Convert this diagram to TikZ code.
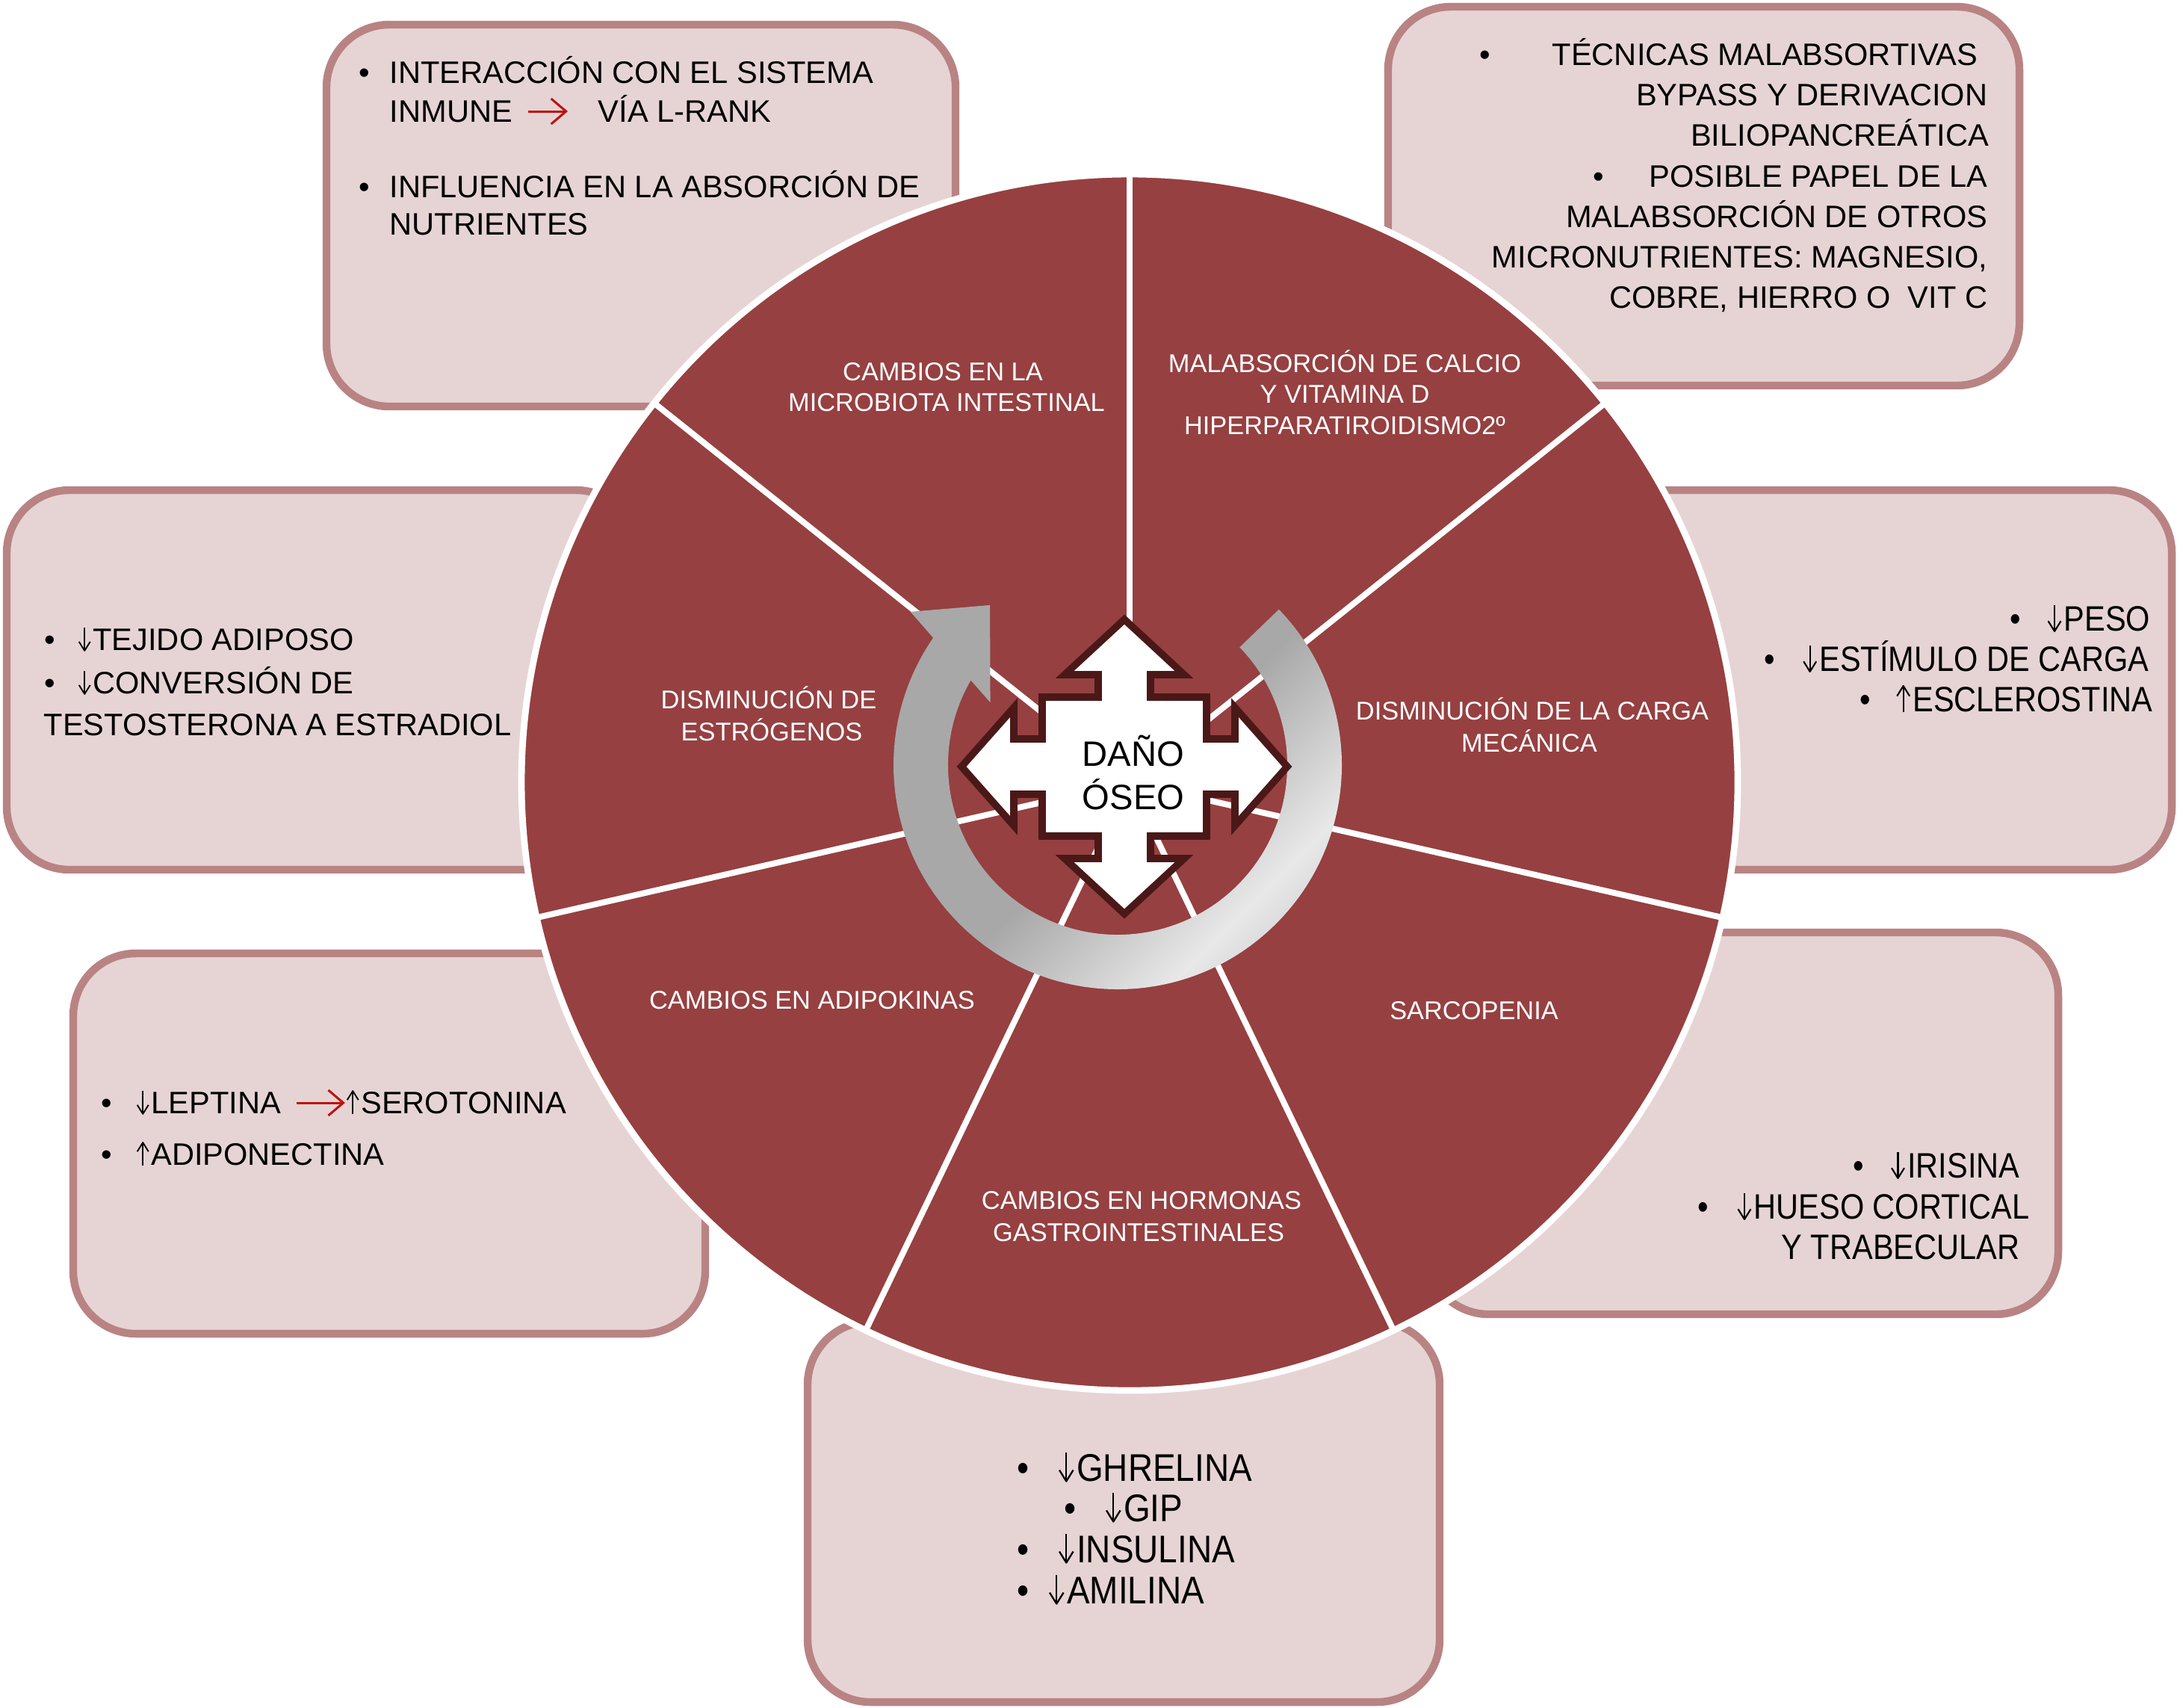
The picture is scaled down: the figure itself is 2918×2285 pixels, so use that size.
\documentclass[tikz,border=0pt]{standalone}
\usepackage{fontspec}
\setmainfont{Liberation Sans}
\newfontfamily\fontR{Liberation Sans}[FakeStretch=0.88]
\newfontfamily\fontB{Liberation Sans}[FakeStretch=0.89]
\usetikzlibrary{arrows.meta}
\definecolor{piered}{RGB}{150,64,65}
\definecolor{boxfill}{RGB}{230,212,212}
\definecolor{boxline}{RGB}{185,131,131}
\definecolor{crossline}{RGB}{75,24,24}
\definecolor{arrred}{RGB}{192,16,16}
\definecolor{ringdark}{RGB}{168,168,168}
\definecolor{ringlight}{RGB}{232,232,232}
\definecolor{ringmid}{RGB}{188,188,188}
\pgfdeclarehorizontalshading{ringsh}{100bp}{color(0bp)=(ringdark); color(50bp)=(ringdark); color(68bp)=(ringlight); color(82bp)=(ringmid); color(100bp)=(ringmid)}
\newcommand{\dar}{\tikz[baseline=0pt]{\draw[line width=0.045em] (0.2em,0.74em) -- (0.2em,0.02em); \draw[line width=0.045em, line join=round] (0.02em,0.29em) -- (0.2em,0em) -- (0.38em,0.29em); \path (0em,0em) (0.47em,0em);}}
\newcommand{\uar}{\tikz[baseline=0pt]{\draw[line width=0.045em] (0.2em,0em) -- (0.2em,0.72em); \draw[line width=0.045em, line join=round] (0.02em,0.45em) -- (0.2em,0.74em) -- (0.38em,0.45em); \path (0em,0em) (0.47em,0em);}}
\tikzset{
  panel/.style={draw=boxline, line width=2.6pt, fill=boxfill, rounded corners=21pt},
  txt/.style={font=\fontsize{10.4}{12}\selectfont, inner sep=0pt, text height=7.45pt, text depth=0pt},
  txtR/.style={font=\fontR\fontsize{11.8}{13}\selectfont, inner sep=0pt, text height=8.45pt, text depth=0pt},
  txtB/.style={font=\fontB\fontsize{12.9}{14}\selectfont, inner sep=0pt, text height=9.24pt, text depth=0pt},
  lbl/.style={font=\fontsize{8.6}{10}\selectfont, inner sep=0pt, text height=6.16pt, text depth=0pt, text=white, anchor=center},
  big/.style={font=\fontsize{11.8}{14}\selectfont, inner sep=0pt, text height=8.45pt, text depth=0pt, anchor=center},
  spoke/.style={white, line width=2pt},
  redarr/.style={draw=arrred, line width=0.75pt, -{Straight Barb[length=5pt,width=8.5pt]}},
}
\begin{document}
\begin{tikzpicture}[x=0.25pt,y=-0.25pt]
\useasboundingbox (0,0) rectangle (2918,2285);
\fill[white] (0,0) rectangle (2918,2285);
% panels
\draw[panel] (437,33) rectangle (1279,544);
\draw[panel] (1858,9) rectangle (2703,516);
\draw[panel] (9,656) rectangle (855,1164);
\draw[panel] (2061,656) rectangle (2907,1164);
\draw[panel] (98,1276) rectangle (944,1785);
\draw[panel] (1909,1248) rectangle (2755,1759);
\draw[panel] (1081,1769) rectangle (1927,2278);
% pie
\fill[piered] (1512,1047) circle (203.5pt);
\begin{scope}[shift={(1512,1047)}, y=0.25pt]
  \foreach \a in {90,38.571,-12.857,-64.286,-115.714,-167.143,141.429}
    \draw[spoke] (0,0) -- (\a:814);
\end{scope}
\draw[white, line width=2.2pt] (1512,1047) circle (203.5pt);
% ring arrow
\begin{scope}[shift={(1496,1024)}, y=0.25pt]
  \shade[shading=ringsh, shading angle=-45]
    (44:300) arc (44:-214.6:300) -- (-216.5:345) -- (-231.4:274) -- (-206.2:190)
    -- (-210:227) arc (-210:44:227) -- cycle;
\end{scope}
% cross
\begin{scope}[shift={(1505,1026)}]
  \draw[crossline, line width=2.4pt, fill=white, line join=miter]
    (0,-197) -- (80,-123) -- (35,-123) -- (35,-93) -- (110,-93) -- (110,-37) -- (148,-37) -- (148,-79)
    -- (218,0) -- (148,79) -- (148,37) -- (110,37) -- (110,93) -- (35,93) -- (35,123) -- (80,123)
    -- (0,197) -- (-80,123) -- (-35,123) -- (-35,93) -- (-110,93) -- (-110,37) -- (-148,37) -- (-148,79)
    -- (-218,0) -- (-148,-79) -- (-148,-37) -- (-110,-37) -- (-110,-93) -- (-35,-93) -- (-35,-123) -- (-80,-123) -- cycle;
\end{scope}
\node[big] (d1) at (1517,1009) {DAÑO};
\node[big] (d2) at (1517,1067) {ÓSEO};
% segment labels
\node[lbl] (s1a) at (1262,497) {CAMBIOS EN LA};
\node[lbl] (s1b) at (1267,538) {MICROBIOTA INTESTINAL};
\node[lbl] (s2a) at (1800,486) {MALABSORCIÓN DE CALCIO};
\node[lbl] (s2b) at (1800,527) {Y VITAMINA D};
\node[lbl] (s2c) at (1800,569) {HIPERPARATIROIDISMO2º};
\node[lbl] (s3a) at (2051,951) {DISMINUCIÓN DE LA CARGA};
\node[lbl] (s3b) at (2047,994) {MECÁNICA};
\node[lbl] (s4) at (1973,1352) {SARCOPENIA};
\node[lbl] (s5a) at (1528,1606) {CAMBIOS EN HORMONAS};
\node[lbl] (s5b) at (1524,1649) {GASTROINTESTINALES};
\node[lbl] (s6) at (1087,1338) {CAMBIOS EN ADIPOKINAS};
\node[lbl] (s7a) at (1029,936) {DISMINUCIÓN DE};
\node[lbl] (s7b) at (1033,979) {ESTRÓGENOS};
% top-left panel
\node[txt, anchor=center] (tlb1) at (488,97) {•};
\node[txt, anchor=west] (tl1) at (521,97) {INTERACCIÓN CON EL SISTEMA};
\node[txt, anchor=west] (tl2) at (521,149) {INMUNE};
\node[txt, anchor=west] (tl3) at (800,149) {VÍA L-RANK};
\draw[redarr] ([xshift=5pt]tl2.east) -- ([xshift=-10pt]tl3.west);
\node[txt, anchor=center] (tlb2) at (488,250) {•};
\node[txt, anchor=west] (tl4) at (521,250) {INFLUENCIA EN LA ABSORCIÓN DE};
\node[txt, anchor=west] (tl5) at (521,300) {NUTRIENTES};
% top-right panel
\node[txt, anchor=center] (trb1) at (1988,73) {•};
\node[txt, anchor=east] (tr1) at (2648,73) {TÉCNICAS MALABSORTIVAS};
\node[txt, anchor=east] (tr2) at (2661,127) {BYPASS Y DERIVACION};
\node[txt, anchor=east] (tr3) at (2663,181) {BILIOPANCREÁTICA};
\node[txt, anchor=center] (trb2) at (2140,236) {•};
\node[txt, anchor=east] (tr4) at (2661,236) {POSIBLE PAPEL DE LA};
\node[txt, anchor=east] (tr5) at (2661,290) {MALABSORCIÓN DE OTROS};
\node[txt, anchor=east] (tr6) at (2661,344) {MICRONUTRIENTES: MAGNESIO,};
\node[txt, anchor=east] (tr7) at (2661,398) {COBRE, HIERRO O\ \ VIT C};
% left panel
\node[txt, anchor=center] (lb1) at (67,856) {•};
\node[txt, anchor=west] (l1) at (104,856) {\dar TEJIDO ADIPOSO};
\node[txt, anchor=center] (lb2) at (67,914) {•};
\node[txt, anchor=west] (l2) at (104,914) {\dar CONVERSIÓN DE};
\node[txt, anchor=west] (l3) at (58,970) {TESTOSTERONA A ESTRADIOL};
% right panel
\node[txtR, anchor=center] (rb1) at (2698,828) {•};
\node[txtR, anchor=east] (r1) at (2879,828) {\dar PESO};
\node[txtR, anchor=center] (rb2) at (2369,882) {•};
\node[txtR, anchor=east] (r2) at (2877,882) {\dar ESTÍMULO DE CARGA};
\node[txtR, anchor=center] (rb3) at (2497,936) {•};
\node[txtR, anchor=east] (r3) at (2882,936) {\uar ESCLEROSTINA};
% lower-left panel
\node[txt, anchor=center] (llb1) at (143,1476) {•};
\node[txt, anchor=west] (ll1) at (182,1476) {\dar LEPTINA};
\node[txt, anchor=west] (ll2) at (463,1476) {\uar SEROTONINA};
\draw[redarr] ([xshift=5pt]ll1.east) -- ([xshift=-0.3pt]ll2.west);
\node[txt, anchor=center] (llb2) at (143,1545) {•};
\node[txt, anchor=west] (ll3) at (182,1545) {\uar ADIPONECTINA};
% lower-right panel
\node[txtR, anchor=center] (lrb1) at (2488,1560) {•};
\node[txtR, anchor=east] (lr1) at (2704,1560) {\dar IRISINA};
\node[txtR, anchor=center] (lrb2) at (2280,1615) {•};
\node[txtR, anchor=east] (lr2) at (2717,1615) {\dar HUESO CORTICAL};
\node[txtR, anchor=east] (lr3) at (2704,1669) {Y TRABECULAR};
% bottom panel
\node[txtB, anchor=center] (bb1) at (1370,1964) {•};
\node[txtB, anchor=west] (b1) at (1416,1964) {\dar GHRELINA};
\node[txtB, anchor=center] (bb2) at (1433,2018) {•};
\node[txtB, anchor=west] (b2) at (1479,2018) {\dar GIP};
\node[txtB, anchor=center] (bb3) at (1370,2073) {•};
\node[txtB, anchor=west] (b3) at (1416,2073) {\dar INSULINA};
\node[txtB, anchor=center] (bb4) at (1370,2128) {•};
\node[txtB, anchor=west] (b4) at (1403,2128) {\dar AMILINA};
\end{tikzpicture}
\end{document}
